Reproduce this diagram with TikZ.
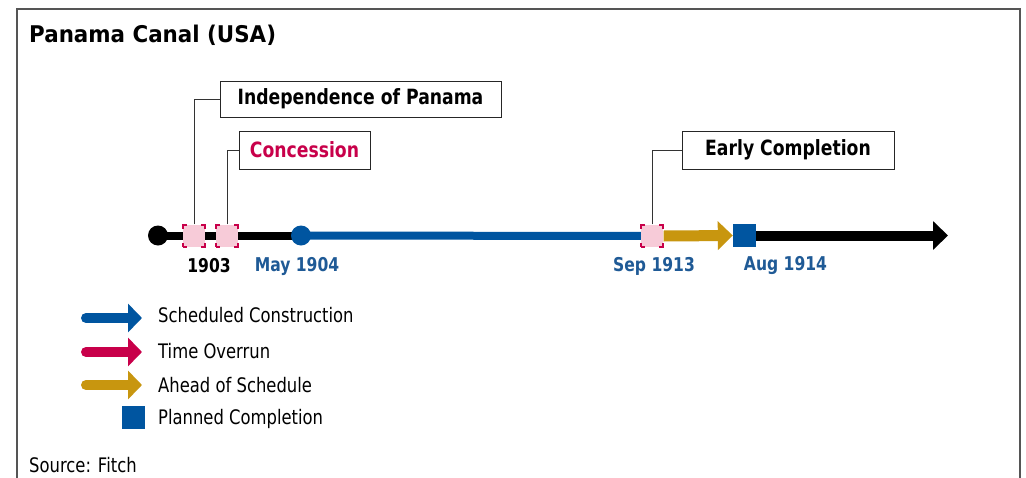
\documentclass[tikz,border=0pt]{standalone}
\usepackage{fontspec}
\usepackage{graphicx}
\setmainfont{DejaVu Sans}
\usetikzlibrary{arrows.meta,backgrounds}
\definecolor{tlblue}{HTML}{0055A0}
\definecolor{tlred}{HTML}{C8004A}
\definecolor{tlgold}{HTML}{C8960F}
\definecolor{tlpink}{HTML}{F7CBD8}
\definecolor{lblblue}{HTML}{1F5A96}
\definecolor{framegray}{HTML}{555555}
\newcommand{\hsq}[1]{\scalebox{0.82}[1]{#1}}
\begin{document}
\begin{tikzpicture}[x=1pt,y=-1pt,
  callout/.style={draw=black!85, line width=1pt, fill=white, inner sep=0pt,
    minimum height=37pt, font=\fontsize{21}{24}\selectfont\bfseries},
  pinksq/.style={minimum size=22pt, inner sep=0pt, fill=tlpink, draw=tlred,
    line width=1.2pt, dash pattern=on 8pt off 14pt, dash phase=4pt},
  dot/.style={circle, minimum size=20pt, inner sep=0pt},
  datelbl/.style={font=\fontsize{19}{22}\selectfont\bfseries, inner sep=0pt},
  legtxt/.style={font=\fontsize{20}{23}\selectfont, inner sep=0pt, anchor=west},
  leader/.style={draw=black!80, line width=1pt},
  legarrow/.style={line width=10pt, line cap=round, -{Triangle[length=14pt,width=28pt]}}
]
\useasboundingbox (0,0) rectangle (1026,477);
\begin{scope}[on background layer]
\fill[white] (0,0) rectangle (1026,477);
\end{scope}
\begin{scope}
\clip (0,0) rectangle (1026,477);
\draw[framegray, line width=1.5pt] (17,9) rectangle (1020,500);
\end{scope}

% title
\node[anchor=west, inner sep=0pt, font=\fontsize{23}{27}\selectfont\bfseries] (title) at (29,35) {\scalebox{0.93}[1]{Panama Canal (USA)}};

% timeline markers
\node[dot, fill=black] (start) at (158,235.5) {};
\node[pinksq] (sq1) at (194,236) {};
\node[pinksq] (sq2) at (227,236) {};
\node[dot, fill=tlblue] (may) at (301,235.5) {};
\node[pinksq] (sq3) at (652,236) {};
\node[minimum size=23pt, inner sep=0pt, fill=tlblue] (aug) at (744.5,235.5) {};
\coordinate (endtip) at (948,235.5);

\begin{scope}[on background layer]
\draw[line width=8pt] (start.center) -- (may.center);
\draw[tlblue, line width=8pt, line cap=round] (may.center) -- (sq3.center);
\end{scope}
\draw[tlgold, line width=11pt, -{Triangle[length=15pt,width=28pt]}] (sq3.east) -- (aug.west);
\draw[black, line width=10pt, -{Triangle[length=15pt,width=28pt]}] (aug.east) -- (endtip);

% date labels
\node[datelbl] (d1903) at (209,266) {\hsq{1903}};
\node[datelbl, text=lblblue] (d1904) at (297,266) {\hsq{May 1904}};
\node[datelbl, text=lblblue] (d1913) at (654,266) {\hsq{Sep 1913}};
\node[datelbl, text=lblblue] (d1914) at (785.5,266) {\hsq{Aug 1914}};

% callouts
\node[callout, minimum width=281pt, minimum height=36pt] (indep) at (360.5,99) {\hsq{Independence of Panama}};
\node[callout, minimum width=131pt, minimum height=38pt, text=tlred] (conc) at (304.5,150) {\hsq{Concession}};
\node[callout, minimum width=212pt, minimum height=38pt] (early) at (788,150) {\hsq{Early Completion}};
\draw[leader] (sq1.north) |- (indep.west);
\draw[leader] (sq2.north) |- (conc.west);
\draw[leader] (sq3.north) |- (early.west);

% legend
\coordinate (l1s) at (86,318);  \coordinate (l1e) at (142,318);
\coordinate (l2s) at (86,352);  \coordinate (l2e) at (142,352);
\coordinate (l3s) at (86,385);  \coordinate (l3e) at (142,385);
\draw[legarrow, tlblue] (l1s) -- (l1e);
\draw[legarrow, tlred] (l2s) -- (l2e);
\draw[legarrow, tlgold] (l3s) -- (l3e);
\node[minimum size=23pt, inner sep=0pt, fill=tlblue] (legsq) at (133.5,417) {};
\node[legtxt] (t1) at (158,315) {\hsq{Scheduled Construction}};
\node[legtxt] (t2) at (158,351) {\hsq{Time Overrun}};
\node[legtxt] (t3) at (158,385) {\hsq{Ahead of Schedule}};
\node[legtxt] (t4) at (158,419) {\hsq{Planned Completion}};

\node[legtxt] (src) at (29,465) {\hsq{Source: Fitch}};
\end{tikzpicture}
\end{document}
